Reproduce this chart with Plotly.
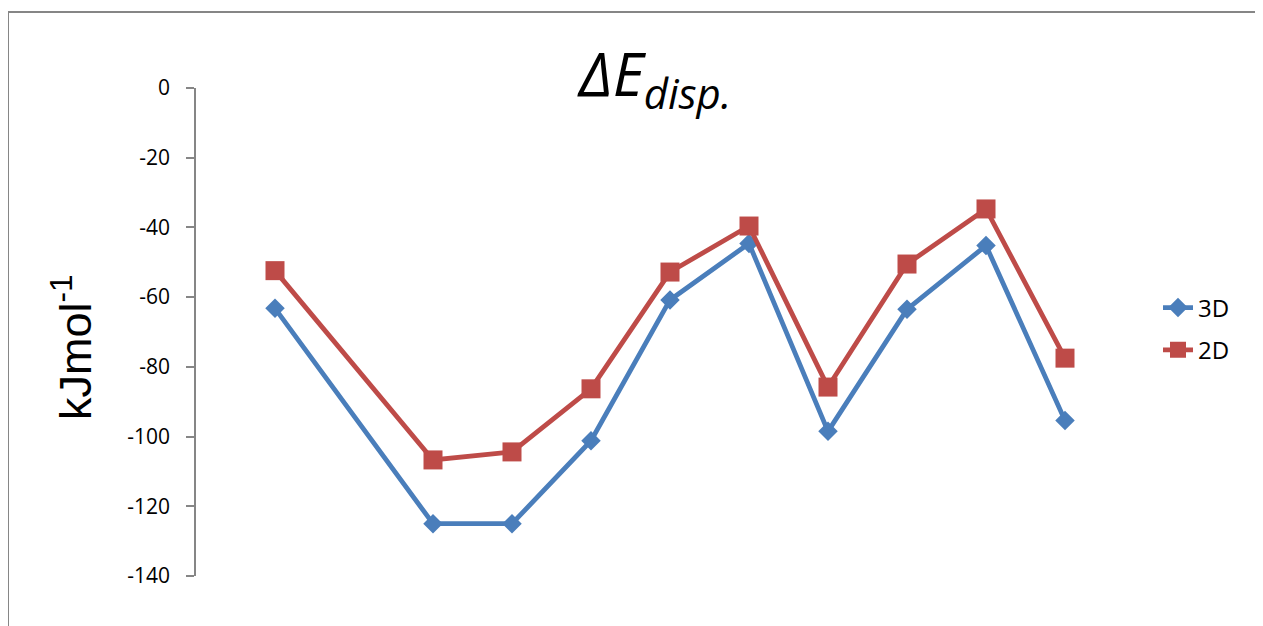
import plotly.graph_objects as go

# Category slots (12 on the axis, slots 0 and 2 empty)
slots = list(range(12))
series_3d = [None, -63.2, None, -125.0, -125.0, -101.2, -60.8, -44.6, -98.5, -63.5, -45.2, -95.4]
series_2d = [None, -52.4, None, -106.7, -104.4, -86.3, -52.8, -39.6, -85.8, -50.5, -34.7, -77.5]
y_ticks = [0, -20, -40, -60, -80, -100, -120, -140]

BLUE = "#4A7EBB"
RED = "#BE4B48"
GRAY = "#868686"

OFF = 8  # page body margin
W, H = 1263, 626
L, R, T, B = 196 - OFF, 1065 - OFF, 88 - OFF, 576 - OFF

fig = go.Figure()
fig.add_trace(go.Scatter(
    x=slots, y=series_3d, name="3D", mode="lines+markers", connectgaps=True,
    legendgroup="a",
    line=dict(color=BLUE, width=4.8),
    marker=dict(symbol="diamond", size=15, color=BLUE),
    cliponaxis=False,
))
fig.add_trace(go.Scatter(
    x=slots, y=series_2d, name="2D", mode="lines+markers", connectgaps=True,
    legendgroup="b",
    line=dict(color=RED, width=4.8),
    marker=dict(symbol="square", size=19, color=RED),
    cliponaxis=False,
))

pw = R - L
ph = B - T

def px_x(p):
    return (p - OFF - L) / pw

def px_y(p):
    return (B - (p - OFF)) / ph

fig.update_layout(
    width=W, height=H,
    margin=dict(l=L, r=W - R, t=T, b=H - B, pad=0),
    paper_bgcolor="white", plot_bgcolor="white",
    showlegend=True,
    legend=dict(
        x=px_x(1158), y=px_y(329), xanchor="left", yanchor="middle",
        font=dict(family="Open Sans", size=24, color="black"),
        bgcolor="rgba(0,0,0,0)", tracegroupgap=8,
    ),
    xaxis=dict(range=[0, 11], visible=False, showgrid=False, zeroline=False),
    yaxis=dict(
        range=[-140, 0], tickvals=y_ticks, ticktext=[str(v) for v in y_ticks],
        showgrid=False, zeroline=False, showline=True, linecolor=GRAY, linewidth=1.5,
        ticks="outside", ticklen=8, tickcolor=GRAY, tickwidth=1.5,
        tickfont=dict(family="Open Sans", size=21, color="black"),
        ticklabelstandoff=12,
    ),
    shapes=[dict(
        type="rect", xref="paper", yref="paper",
        x0=px_x(8), x1=px_x(1400), y0=px_y(700), y1=px_y(12),
        line=dict(color=GRAY, width=2), fillcolor="rgba(0,0,0,0)", layer="below",
    )],
    annotations=[
        dict(
            text="<i>ΔE<sub>disp.</sub></i>", xref="paper", yref="paper",
            x=px_x(654), y=px_y(76), xanchor="center", yanchor="middle",
            showarrow=False, font=dict(family="Open Sans", size=60, color="black"),
        ),
        dict(
            text="kJmol<sup>-1</sup>", xref="paper", yref="paper",
            x=px_x(72), y=px_y(347), xanchor="center", yanchor="middle",
            textangle=-90, showarrow=False,
            font=dict(family="Liberation Sans", size=45, color="black"),
        ),
    ],
)

fig.write_html("out.html")
